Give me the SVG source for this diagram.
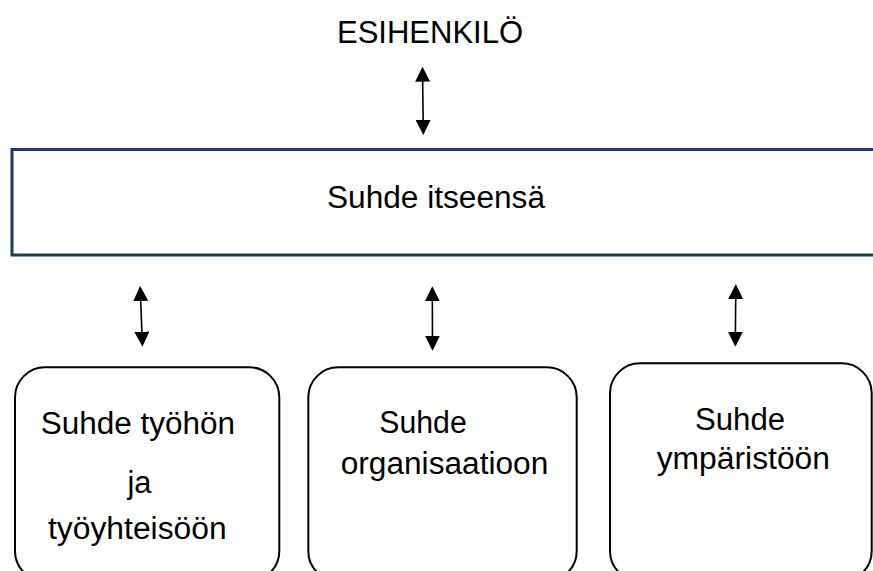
<svg xmlns="http://www.w3.org/2000/svg" width="873" height="571" viewBox="0 0 873 571">
  <style>
    .lbl { font-family: "Liberation Sans", Arial, sans-serif; font-size: 31px; fill: #000; }
    .box { fill: #fff; stroke: #000; stroke-width: 2; }
    .band { fill: #fff; stroke: #1F3864; stroke-width: 3; }
    .link { stroke: #000; stroke-width: 1.6; fill: none; marker-start: url(#head); marker-end: url(#head); }
  </style>
  <defs>
    <marker id="head" markerUnits="userSpaceOnUse" markerWidth="15" markerHeight="15" refX="13" refY="7.5" orient="auto-start-reverse" viewBox="0 0 15 15">
      <path d="M0,0 L15,7.5 L0,15 z" fill="#000"/>
    </marker>
  </defs>
  <rect width="873" height="571" fill="#fff"/>

  <g id="esihenkilo">
    <text class="lbl" x="337" y="42.7" textLength="186" lengthAdjust="spacingAndGlyphs">ESIHENKILÖ</text>
  </g>

  <g id="suhde-itseensa">
    <rect class="band" x="12" y="149.5" width="880" height="105.5"/>
    <text class="lbl" x="327" y="208.3" textLength="218" lengthAdjust="spacingAndGlyphs">Suhde itseensä</text>
  </g>

  <g id="suhde-tyohon">
    <rect class="box" x="15" y="367.3" width="264.3" height="213.7" rx="30" ry="30"/>
    <text class="lbl" x="40.7" y="434" textLength="194.3" lengthAdjust="spacingAndGlyphs">Suhde työhön</text>
    <text class="lbl" x="127.5" y="493" textLength="24" lengthAdjust="spacingAndGlyphs">ja</text>
    <text class="lbl" x="48" y="539" textLength="178.7" lengthAdjust="spacingAndGlyphs">työyhteisöön</text>
  </g>

  <g id="suhde-organisaatioon">
    <rect class="box" x="308.3" y="367.3" width="268.4" height="213.7" rx="30" ry="30"/>
    <text class="lbl" x="379.3" y="432.7" textLength="87.4" lengthAdjust="spacingAndGlyphs">Suhde</text>
    <text class="lbl" x="340.7" y="474" textLength="207.6" lengthAdjust="spacingAndGlyphs">organisaatioon</text>
  </g>

  <g id="suhde-ymparistoon">
    <rect class="box" x="610" y="363.3" width="261.7" height="217.7" rx="30" ry="30"/>
    <text class="lbl" x="695" y="430" textLength="90" lengthAdjust="spacingAndGlyphs">Suhde</text>
    <text class="lbl" x="656.7" y="468.5" textLength="173.3" lengthAdjust="spacingAndGlyphs">ympäristöön</text>
  </g>

  <g id="connectors">
    <line class="link" x1="422.5" y1="68.7" x2="423.3" y2="133"/>
    <line class="link" x1="140.2" y1="288" x2="142.4" y2="344.7"/>
    <line class="link" x1="432.3" y1="288.3" x2="432.5" y2="348.7"/>
    <line class="link" x1="735.8" y1="286" x2="735.3" y2="344.7"/>
  </g>
</svg>
